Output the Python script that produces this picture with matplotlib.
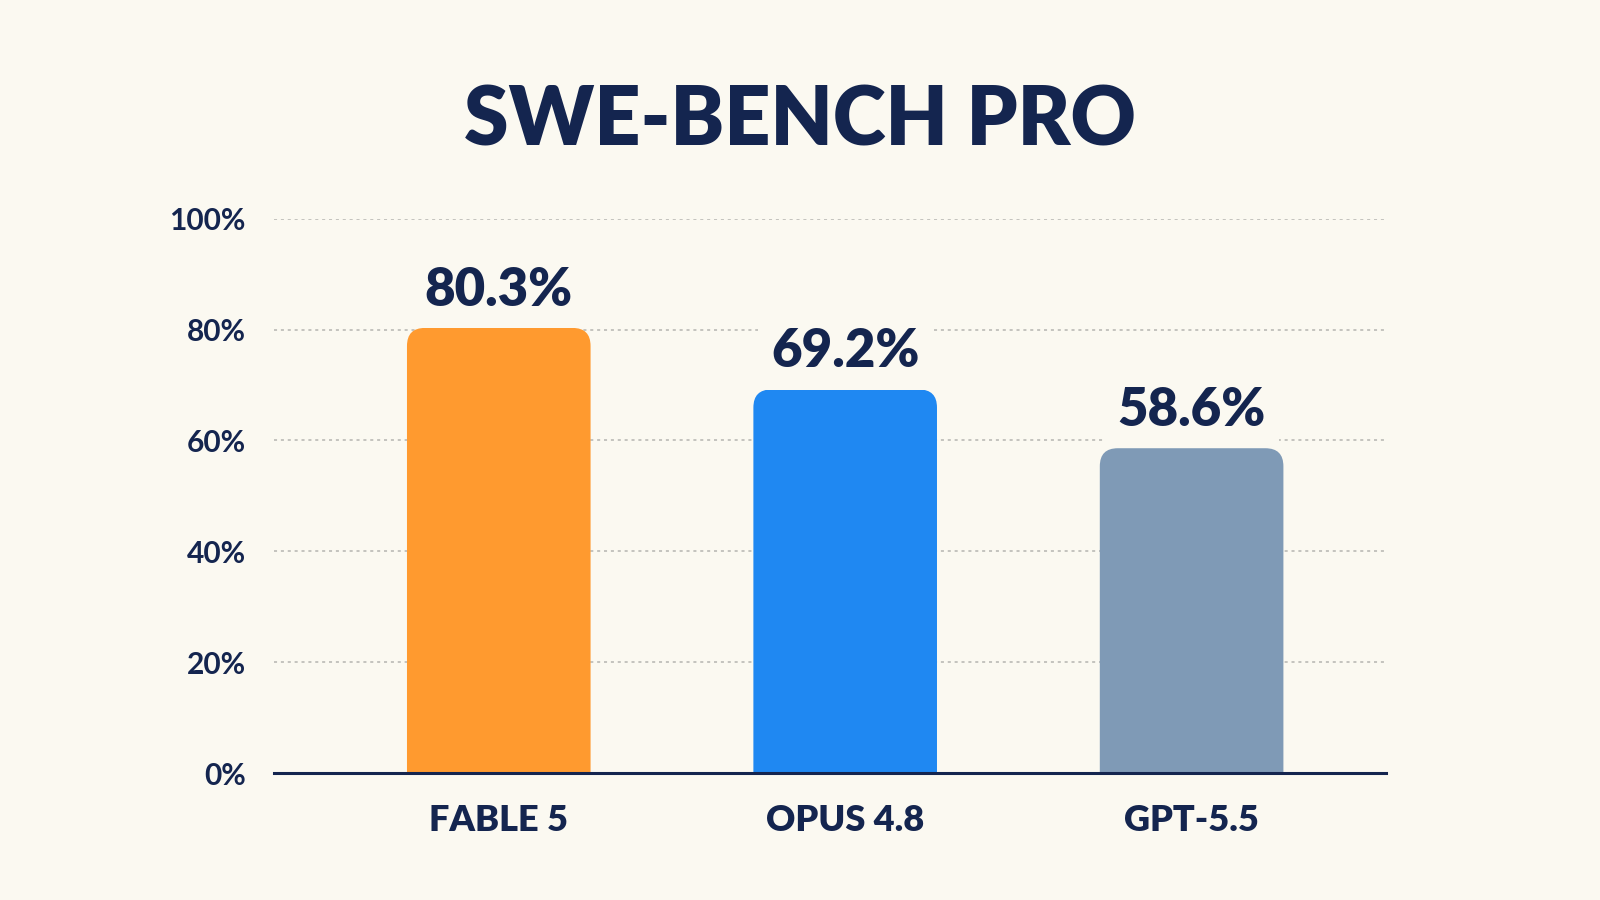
import matplotlib
matplotlib.use("Agg")
import matplotlib.pyplot as plt
from matplotlib.patches import FancyBboxPatch

# chart data
models = ["FABLE 5", "OPUS 4.8", "GPT-5.5"]
scores = [80.3, 69.2, 58.6]
bar_colors = ["#FF9A2F", "#1F88F2", "#7F9AB6"]
y_ticks = [0, 20, 40, 60, 80, 100]
y_tick_labels = ["0%", "20%", "40%", "60%", "80%", "100%"]

bg = "#FBF9F1"
navy = "#14254F"
plt.rcParams["font.family"] = ["Lato", "DejaVu Sans"]

fig = plt.figure(figsize=(16, 9), dpi=100, facecolor=bg)
ax = fig.add_axes([0.171, 0.141, 0.695, 0.616])
ax.set_facecolor(bg)

x = list(range(len(models)))
width = 0.53
bars = ax.bar(x, scores, width=width, color=bar_colors, zorder=3)

# swap the plain bars for rounded boxes; the box starts below zero so the
# axes clip hides its lower corners and only the top ones stay rounded
px_x = 346.0
px_y = 5.54
radius_px = 18
below = 10
for b, c in zip(bars, bar_colors):
    b.set_visible(False)
    x0, w, h = b.get_x(), b.get_width(), b.get_height()
    ax.add_patch(FancyBboxPatch((x0, -below), w, h + below,
                                boxstyle=f"round,pad=0,rounding_size={radius_px / px_x}",
                                mutation_aspect=px_x / px_y,
                                facecolor=c, edgecolor="none", zorder=3))

for xi, s in zip(x, scores):
    ax.annotate(f"{s:.1f}%", (xi, s), xytext=(0, 27), textcoords="offset points",
                ha="center", va="center", fontsize=38, fontweight="heavy", color=navy,
                bbox=dict(boxstyle="square,pad=0.25", facecolor=bg, edgecolor="none"),
                zorder=4)

ax.set_xlim(-0.65, 2.56)
ax.set_ylim(0, 100)
ax.set_yticks(y_ticks)
ax.set_yticklabels(y_tick_labels, fontsize=21.5, fontweight="bold", color=navy)
ax.set_xticks(x)
ax.set_xticklabels(models, fontsize=26, fontweight="heavy", color=navy)
ax.tick_params(axis="y", length=0, pad=20)
ax.tick_params(axis="x", length=0, pad=22)

for yv in y_ticks[1:]:
    ax.axhline(yv, color="#B5B5B0", linestyle=(0, (2, 2.5)), linewidth=1.1, zorder=1)

for side in ["top", "right", "left"]:
    ax.spines[side].set_visible(False)
ax.spines["bottom"].set_color(navy)
ax.spines["bottom"].set_linewidth(2.2)
ax.spines["bottom"].set_zorder(5)

fig.text(0.5, 0.864, "SWE-BENCH PRO", ha="center", va="center",
         fontsize=58, fontweight="heavy", color=navy)

fig.savefig("out.png", dpi=100, facecolor=bg)
